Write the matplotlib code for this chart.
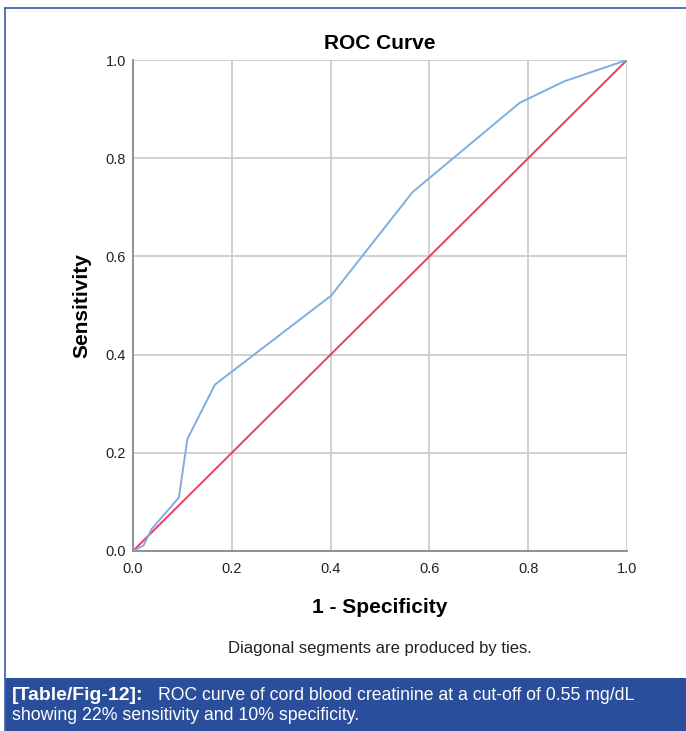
import matplotlib
matplotlib.use("Agg")
import matplotlib.pyplot as plt
from matplotlib.patches import Rectangle
from matplotlib.lines import Line2D

plt.rcParams['font.family'] = ['Liberation Sans', 'DejaVu Sans']

fpr = [0.0, 0.021, 0.038, 0.093, 0.110, 0.166, 0.401, 0.566, 0.783, 0.874, 1.0]
tpr = [0.0, 0.011, 0.045, 0.109, 0.228, 0.339, 0.520, 0.731, 0.913, 0.957, 1.0]
ref_x = [0.0, 1.0]
ref_y = [0.0, 1.0]
ticks = [0.0, 0.2, 0.4, 0.6, 0.8, 1.0]
tick_labels = ["0.0", "0.2", "0.4", "0.6", "0.8", "1.0"]

W, H = 686, 731
fig = plt.figure(figsize=(W / 100, H / 100), dpi=100)
fig.patch.set_facecolor("white")

# frame border (left and top) and caption box
blue = "#2a4e9c"
fig.add_artist(Line2D([5 / W, 5 / W], [0, 1 - 8 / H], transform=fig.transFigure,
                      color="#3a5eab", lw=1.2))
fig.add_artist(Line2D([5 / W, 1], [1 - 8 / H, 1 - 8 / H], transform=fig.transFigure,
                      color="#3a5eab", lw=1.2))
fig.add_artist(Rectangle((5 / W, 0), 1 - 5 / W, 53 / H, transform=fig.transFigure,
                         facecolor=blue, edgecolor="none"))

ax = fig.add_axes([133 / W, (H - 551) / H, 494 / W, 491 / H])
ax.plot(ref_x, ref_y, color="#e8415e", lw=1.4, zorder=3)
ax.plot(fpr, tpr, color="#7eaee0", lw=1.4, zorder=4)
ax.set_xlim(0, 1)
ax.set_ylim(0, 1)
ax.set_xticks(ticks)
ax.set_xticklabels(tick_labels)
ax.set_yticks(ticks)
ax.set_yticklabels(tick_labels)
ax.grid(True, color="#c8c8c8", lw=1.2)
ax.set_axisbelow(True)
for s in ["top", "right"]:
    ax.spines[s].set_visible(False)
for s in ["left", "bottom"]:
    ax.spines[s].set_color("#8a8a8a")
    ax.spines[s].set_linewidth(1.3)
ax.tick_params(axis="x", length=0, labelsize=10.5, labelcolor="#222222", pad=8)
ax.tick_params(axis="y", length=0, labelsize=10.5, labelcolor="#222222", pad=5)

ax.set_title("ROC Curve", fontsize=15, fontweight="bold", pad=8)
ax.set_xlabel("1 - Specificity", fontsize=15, fontweight="bold", labelpad=16)
ax.set_ylabel("Sensitivity", fontsize=15, fontweight="bold", labelpad=10)

fig.text(0.5 * (133 + 627) / W, 1 - 649 / H, "Diagonal segments are produced by ties.",
         ha="center", va="center", fontsize=12, color="#222222")

fig.text(12 / W, 1 - 696 / H, "[Table/Fig-12]:", ha="left", va="center",
         fontsize=14, fontweight="bold", color="white")
fig.text(158 / W, 1 - 696 / H, "ROC curve of cord blood creatinine at a cut-off of 0.55 mg/dL",
         ha="left", va="center", fontsize=12.7, color="white")
fig.text(12 / W, 1 - 715 / H, "showing 22% sensitivity and 10% specificity.",
         ha="left", va="center", fontsize=12.8, color="white")

fig.savefig("out.png", dpi=100)
